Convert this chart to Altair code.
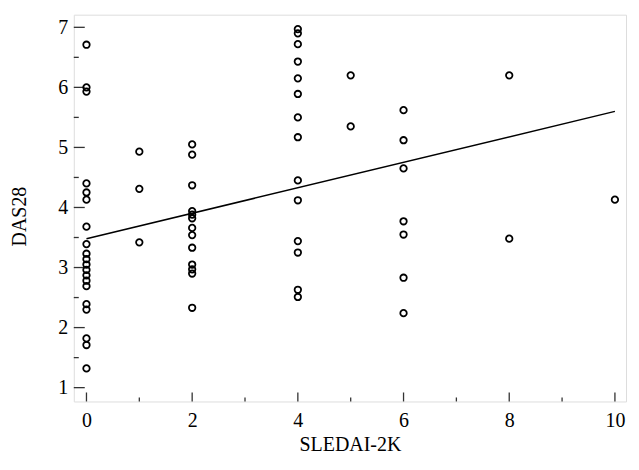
import altair as alt
import pandas as pd

# Data
x0_vals = [6.71, 6.00, 5.93, 4.40, 4.25, 4.13, 3.68, 3.39, 3.23, 3.14, 3.05, 2.96,
           2.87, 2.78, 2.69, 2.39, 2.30, 1.82, 1.71, 1.32]
x1_vals = [4.93, 4.31, 3.42]
x2_vals = [5.05, 4.88, 4.37, 3.94, 3.88, 3.82, 3.66, 3.54, 3.33, 3.05, 2.97, 2.90, 2.33]
x4_vals = [6.97, 6.90, 6.72, 6.43, 6.15, 5.89, 5.50, 5.17, 4.45, 4.12, 3.44, 3.25, 2.63, 2.51]
x5_vals = [6.20, 5.35]
x6_vals = [5.62, 5.12, 4.65, 3.77, 3.55, 2.83, 2.24]
x8_vals = [6.20, 3.48]
x10_vals = [4.13]

fit_x = [0, 10]
fit_y = [3.48, 5.60]

x_major = [0, 2, 4, 6, 8, 10]
x_minor = [1, 3, 5, 7, 9]
y_major = [1, 2, 3, 4, 5, 6, 7]
y_minor = [1.5, 2.5, 3.5, 4.5, 5.5, 6.5]

rows = []
for xv, vals in [(0, x0_vals), (1, x1_vals), (2, x2_vals), (4, x4_vals),
                 (5, x5_vals), (6, x6_vals), (8, x8_vals), (10, x10_vals)]:
    for v in vals:
        rows.append({"SLEDAI": xv, "DAS28": v})
pts = pd.DataFrame(rows)
fit = pd.DataFrame({"SLEDAI": fit_x, "DAS28": fit_y})

W, H = 554, 388
FONT = "Liberation Serif"

xscale = alt.Scale(domain=[-0.24, 10.21], nice=False, zero=False)
yscale = alt.Scale(domain=[0.77, 7.21], nice=False, zero=False)

xaxis = alt.Axis(values=x_major, ticks=False, domain=False, grid=False, format="d",
                 labelFont=FONT, labelFontSize=20, labelColor="black",
                 labelPadding=9, title="SLEDAI-2K", titleFont=FONT,
                 titleFontSize=20, titleFontWeight="normal", titleColor="black",
                 titleY=33, titleBaseline="top")
yaxis = alt.Axis(values=y_major, ticks=False, domain=False, grid=False, format="d",
                 labelFont=FONT, labelFontSize=20, labelColor="black",
                 labelPadding=6, title="DAS28", titleFont=FONT,
                 titleFontSize=20, titleFontWeight="normal", titleColor="black",
                 titleX=-54, titleY=202, titleBaseline="middle")

points = alt.Chart(pts).mark_point(shape="circle", filled=False, color="black",
                                   size=42, strokeWidth=1.8, opacity=1).encode(
    x=alt.X("SLEDAI:Q", scale=xscale, axis=xaxis),
    y=alt.Y("DAS28:Q", scale=yscale, axis=yaxis),
)

line = alt.Chart(fit).mark_line(color="black", strokeWidth=1.5).encode(
    x=alt.X("SLEDAI:Q", scale=xscale),
    y=alt.Y("DAS28:Q", scale=yscale),
)

tick_color = "#333"
xmaj = alt.Chart(pd.DataFrame({"v": x_major})).mark_rule(color=tick_color, strokeWidth=1.3).encode(
    x=alt.X("v:Q", scale=xscale), y=alt.value(H), y2=alt.value(H - 9))
xmin = alt.Chart(pd.DataFrame({"v": x_minor})).mark_rule(color=tick_color, strokeWidth=1.3).encode(
    x=alt.X("v:Q", scale=xscale), y=alt.value(H), y2=alt.value(H - 4))
ymaj = alt.Chart(pd.DataFrame({"v": y_major})).mark_rule(color=tick_color, strokeWidth=1.3).encode(
    y=alt.Y("v:Q", scale=yscale), x=alt.value(0), x2=alt.value(11))
ymin = alt.Chart(pd.DataFrame({"v": y_minor})).mark_rule(color=tick_color, strokeWidth=1.3).encode(
    y=alt.Y("v:Q", scale=yscale), x=alt.value(0), x2=alt.value(5))

chart = alt.layer(xmaj, xmin, ymaj, ymin, line, points).properties(
    width=W, height=H,
    autosize=alt.AutoSizeParams(type="none"),
    padding={"left": 66, "top": 6, "right": 5, "bottom": 55},
).configure_view(stroke="#555", strokeWidth=1.5).configure(background="white")

chart.save("out.html", embed_options={"renderer": "svg", "actions": False})
